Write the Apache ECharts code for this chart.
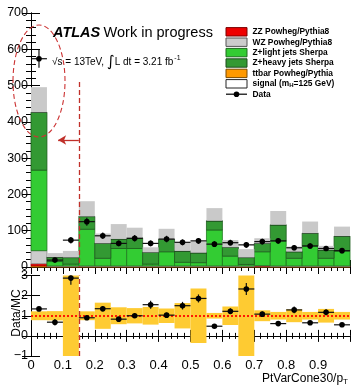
<!DOCTYPE html>
<html><head><meta charset="utf-8">
<script src="https://cdn.jsdelivr.net/npm/echarts@6/dist/echarts.min.js"></script>
<style>html,body{margin:0;padding:0;background:#fff}#c{width:351px;height:386px}</style>
</head><body><div id="c"></div>
<script>
// ---- data (bins of PtVarCone30/pT, width 0.05) ----
const binLow  = [0,0.05,0.1,0.15,0.2,0.25,0.3,0.35,0.4,0.45,0.5,0.55,0.6,0.65,0.7,0.75,0.8,0.85,0.9,0.95];
const binHigh = [0.05,0.1,0.15,0.2,0.25,0.3,0.35,0.4,0.45,0.5,0.55,0.6,0.65,0.7,0.75,0.8,0.85,0.9,0.95,1.0];
const ttbar  = [3,1,1,1,1,1,1,1,1,1,1,1,1,1,1,1,1,1,1,1];
const zz     = [6,1,1,1,1,1,1,1,1,1,1,1,1,1,2,1,1,1,1,1];
const wz     = [36,1,1,1,1,1,1,1,1,1,1,1,1,1,1,1,1,1,1,1];
const zLight = [222,12,5,101,21,48,48,5,39,10,9,99,27,4,38,69,21,55,21,41];
const zHeavy = [159,12,18,35,41,26,29,32,34,31,27,25,24,19,23,44,18,35,23,41];
const signal = [0.6,0.3,0.3,0.3,0.3,0.3,0.3,0.3,0.3,0.3,0.3,0.3,0.3,0.3,0.3,0.3,0.3,0.3,0.3,0.3];
const mcUnc  = [69,11,18,42,27,41,28,14,29,23,31,35,20,23,14,38,14,32,11,26];
const dataY   = [574,19,74,125,86,65,79,65,77,68,72,63,67,61,70,72,53,58,51,45];
const dataErr = [25,5,9,11,9,8,9,8,9,8,8,8,8,8,8,8,7,8,7,7];
const ratioY    = [1.34,0.68,2.87,0.90,1.35,0.83,1.00,1.55,1.03,1.50,1.86,0.48,1.22,2.33,1.08,0.61,1.29,0.65,1.17,0.55];
const ratioErr  = [0.06,0.16,0.33,0.08,0.14,0.10,0.11,0.20,0.12,0.19,0.20,0.06,0.15,0.30,0.13,0.07,0.17,0.07,0.15,0.08];
const ratioBand = [0.22,0.23,3.0,0.22,0.65,0.42,0.38,0.44,0.36,0.63,1.35,0.14,0.46,3.0,0.27,0.19,0.32,0.19,0.34,0.19];
const mainTicks  = {min:0, max:700, step:100};
const ratioTicks = {min:-1, max:3, step:1};
const cutValue = 0.15;

const FONT = 'Liberation Sans, Arial, Helvetica, sans-serif';
const chart = echarts.init(document.getElementById('c'), null, {renderer:'canvas'});

function clampRect(p0, p1, cs){
  return echarts.graphic.clipRectByRect({x:p0[0], y:p0[1], width:p1[0]-p0[0], height:p1[1]-p0[1]}, cs);
}
function rectSeries(name, items, fill, stroke, lw, xi, yi){
  return {
    type:'custom', name, xAxisIndex:xi, yAxisIndex:yi, data:items, silent:true, animation:false,
    renderItem(params, api){
      const p0 = api.coord([api.value(0), api.value(3)]);
      const p1 = api.coord([api.value(1), api.value(2)]);
      const shape = clampRect(p0, p1, params.coordSys);
      if(!shape) return;
      return {type:'rect', shape, style:{fill, stroke: stroke||null, lineWidth: lw||0}};
    }
  };
}
function pointSeries(items, xi, yi){
  return {
    type:'custom', xAxisIndex:xi, yAxisIndex:yi, data:items, silent:true, animation:false, z:10,
    renderItem(params, api){
      const cs = params.coordSys;
      const xl = api.value(0), xh = api.value(1), y = api.value(2), e = api.value(3);
      const pc = api.coord([(xl+xh)/2, y]);
      const pl = api.coord([xl, y]), ph = api.coord([xh, y]);
      const pt = api.coord([(xl+xh)/2, y+e]), pb = api.coord([(xl+xh)/2, y-e]);
      const top = Math.max(pt[1], cs.y), bot = Math.min(pb[1], cs.y+cs.height);
      const st = {stroke:'#111', lineWidth:1.2};
      return {type:'group', children:[
        {type:'line', shape:{x1:pl[0], y1:pc[1], x2:ph[0], y2:pc[1]}, style:st},
        {type:'line', shape:{x1:pc[0], y1:top, x2:pc[0], y2:bot}, style:st},
        {type:'circle', shape:{cx:pc[0], cy:pc[1], r:2.8}, style:{fill:'#000'}}
      ]};
    }
  };
}

// stacked MC
const stackDefs = [
  {vals:ttbar,  fill:'#ff9900', stroke:'#b36b00'},
  {vals:zz,     fill:'#ee0000', stroke:'#990000'},
  {vals:wz,     fill:'#cccccc', stroke:'#8a8a8a'},
  {vals:zLight, fill:'#33cc33', stroke:'#1f7a1f'},
  {vals:zHeavy, fill:'#339933', stroke:'#1d5e1d'},
  {vals:signal, fill:'#ffffff', stroke:'#1a3a1a'}
];
const cum = binLow.map(()=>0);
const series = [];
stackDefs.forEach(d=>{
  const items = binLow.map((lo,i)=>{ const y0=cum[i], y1=cum[i]+d.vals[i]; cum[i]=y1; return [lo, binHigh[i], y0, y1]; });
  series.push(rectSeries('', items, d.fill, d.stroke, 0.8, 0, 0));
});
const uncItems = binLow.map((lo,i)=>[lo, binHigh[i], cum[i], cum[i]+mcUnc[i]]);
series.push(rectSeries('unc', uncItems, '#c9c9c9', null, 0, 0, 0));
series.push(pointSeries(binLow.map((lo,i)=>[lo, binHigh[i], dataY[i], dataErr[i]]), 0, 0));

// cut line + arrow (main)
series.push({type:'line', xAxisIndex:0, yAxisIndex:0, data:[], silent:true, z:12,
  markLine:{silent:true, animation:false, label:{show:false}, symbol:['none','none'],
    lineStyle:{color:'#c0302a', type:[5,3], width:1.3},
    data:[
      [{coord:[cutValue, 510]},{coord:[cutValue, 0]}],
      [{coord:[cutValue, 350], symbol:'none', lineStyle:{type:'solid', width:1.3}},{coord:[0.085, 350], symbol:'arrow', symbolSize:[7,8]}]
    ]}
});

// ratio panel (x axis index 2, y axis index 2)
series.push(rectSeries('band', binLow.map((lo,i)=>[lo, binHigh[i], 1-ratioBand[i], 1+ratioBand[i]]), '#fecb32', null, 0, 2, 2));
series.push({type:'line', xAxisIndex:2, yAxisIndex:2, data:[], silent:true, z:5,
  markLine:{silent:true, animation:false, label:{show:false}, symbol:['none','none'],
    data:[
      [{coord:[0,1], lineStyle:{color:'#ff1a00', type:[2,2], width:2}},{coord:[1,1]}],
      [{coord:[cutValue,-1], lineStyle:{color:'#c0302a', type:[5,3], width:1.3}},{coord:[cutValue,3]}]
    ]}
});
series.push(pointSeries(binLow.map((lo,i)=>[lo, binHigh[i], ratioY[i], ratioErr[i]]), 2, 2));

const axisLine = {show:true, lineStyle:{color:'#000', width:1}};
function xAx(grid, pos, labels, majorLen, minorLen){
  return {type:'value', gridIndex:grid, position:pos, min:0, max:1, interval:0.1,
    axisLine, splitLine:{show:false},
    axisTick:{show:true, inside:true, length:majorLen, lineStyle:{color:'#000'}},
    minorTick:{show:true, splitNumber:5, length:minorLen, lineStyle:{color:'#000'}},
    axisLabel:{show:labels, color:'#000', fontFamily:FONT, fontSize:13, margin:3, showMinLabel:true, showMaxLabel:true, hideOverlap:false,
      formatter:(v)=> v>=1 ? '' : String(Math.round(v*10)/10)}
  };
}
function yAx(grid, pos, t, labels, majorLen, minor){
  return {type:'value', gridIndex:grid, position:pos, min:t.min, max:t.max, interval:t.step,
    axisLine, splitLine:{show:false},
    axisTick:{show:true, inside:true, length:majorLen, lineStyle:{color:'#000'}},
    minorTick:{show:minor, splitNumber:5, length:5, lineStyle:{color:'#000'}},
    axisLabel:{show:labels, color:'#000', fontFamily:FONT, fontSize:12.5, margin:3, showMinLabel:true, showMaxLabel:true, hideOverlap:false,
      formatter:(v)=> v<0 ? '\u2212' + String(-v) : String(v)}
  };
}

const legendRows = [
  {label:'ZZ Powheg/Pythia8',   fill:'#ee0000', stroke:'#7a0000'},
  {label:'WZ Powheg/Pythia8',   fill:'#cccccc', stroke:'#555'},
  {label:'Z+light jets Sherpa', fill:'#33cc33', stroke:'#1f6a1f'},
  {label:'Z+heavy jets Sherpa', fill:'#339933', stroke:'#1d4d1d'},
  {label:'ttbar Powheg/Pythia', fill:'#ff9900', stroke:'#7a4a00'},
  {label:'signal (m{sub|H}=125 GeV)', fill:'#ffffff', stroke:'#222'}
];
const graphics = [];
legendRows.forEach((r,i)=>{
  const cy = 31.8 + i*10.4;
  graphics.push({type:'rect', shape:{x:226, y:cy-4.2, width:21, height:8.4}, style:{fill:r.fill, stroke:r.stroke, lineWidth:1}});
  graphics.push({type:'text', x:252.5, y:cy, style:{text:r.label, font:'bold 8.4px '+FONT, fill:'#000', verticalAlign:'middle',
    rich:{sub:{fontSize:6, fontWeight:'bold', fontFamily:FONT, verticalAlign:'bottom', padding:[4,0,0,0]}}}});
});
{
  const cy = 31.8 + 6*10.4;
  graphics.push({type:'line', shape:{x1:226, y1:cy, x2:247, y2:cy}, style:{stroke:'#000', lineWidth:1.2}});
  graphics.push({type:'circle', shape:{cx:236.5, cy:cy, r:2.8}, style:{fill:'#000'}});
  graphics.push({type:'text', x:252.5, y:cy, style:{text:'Data', font:'bold 8.4px '+FONT, fill:'#000', verticalAlign:'middle'}});
}
graphics.push({type:'text', x:53, y:33, style:{text:'{a|ATLAS} {b|Work in progress}', verticalAlign:'middle',
  rich:{a:{fontFamily:FONT, fontSize:14.5, fontWeight:'bold', fontStyle:'italic', fill:'#000'}, b:{fontFamily:FONT, fontSize:14.5, fill:'#000'}}}});
graphics.push({type:'text', x:52, y:62, style:{text:'{n|\u221As = 13TeV, }{i|\u222B}{n|L dt = 3.21 fb}{s|-1}', verticalAlign:'middle',
  rich:{n:{fontFamily:FONT, fontSize:10, fill:'#000'}, i:{fontFamily:'DejaVu Sans', fontSize:15, fill:'#000'}, s:{fontFamily:FONT, fontSize:7, fill:'#000', verticalAlign:'top', padding:[0,0,6,1]}}}});
graphics.push({type:'ellipse', shape:{cx:39, cy:81, rx:26, ry:56}, style:{fill:null, stroke:'#cc3333', lineWidth:1.1, lineDash:[5,3]}, z:20});
graphics.push({type:'text', x:17, y:313, rotation:Math.PI/2, style:{text:'Data/MC', font:'12px '+FONT, fill:'#000', align:'center', verticalAlign:'middle'}});
graphics.push({type:'text', x:348, y:379, style:{text:'PtVarCone30/p{sub|T}', font:'12px '+FONT, fill:'#000', align:'right', verticalAlign:'middle',
  rich:{sub:{fontFamily:FONT, fontSize:8, verticalAlign:'bottom', padding:[5,0,0,0]}}}});

chart.setOption({
  animation:false,
  backgroundColor:'#fff',
  grid:[
    {left:31, top:13, width:319, height:254, outerBoundsMode:'none', containLabel:false},
    {left:31, top:275.5, width:319, height:80.5, outerBoundsMode:'none', containLabel:false}
  ],
  xAxis:[ xAx(0,'bottom',false,7,4), xAx(0,'top',false,7,4), xAx(1,'bottom',true,6,3), xAx(1,'top',false,6,3) ],
  yAxis:[ yAx(0,'left',mainTicks,true,9,true), yAx(0,'right',mainTicks,false,9,true),
          yAx(1,'left',ratioTicks,true,9,false), yAx(1,'right',ratioTicks,false,9,false) ],
  series,
  graphic: graphics
});
</script></body></html>
